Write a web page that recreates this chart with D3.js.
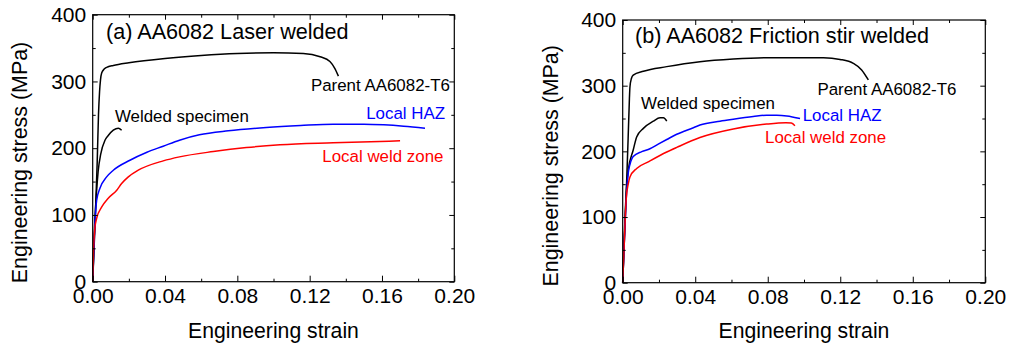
<!DOCTYPE html>
<html>
<head>
<meta charset="utf-8">
<script src="https://cdn.jsdelivr.net/npm/d3@7"></script>
<style>
  body { margin: 0; background: #fff; }
  svg { display: block; font-family: "Liberation Sans", Arial, sans-serif; }
  .tick text { font-size: 21px; fill: #000; }
</style>
</head>
<body>
<div id="chart"></div>
<script>
// Tick values shared by both panels
const strainTicks = [0, 0.04, 0.08, 0.12, 0.16, 0.20]
const strainMinor = [0.02, 0.06, 0.10, 0.14, 0.18]
const stressTicks = [0, 100, 200, 300, 400]
const stressMinor = [50, 150, 250, 350]

// (a) Laser welded  -  [strain, stress MPa]
const parentA = [[0,0],[0.0015,100],[0.0025,180],[0.0032,250],[0.0038,285],[0.0043,302],[0.005,313],[0.0065,319],[0.0085,322],[0.0114,324],[0.02,328],[0.04,334.5],[0.06,339],[0.08,342],[0.1,343],[0.1165,342],[0.1258,337],[0.1312,330],[0.1338,320],[0.1359,308]]
const weldedA = [[0,0],[0.001,80],[0.002,130],[0.003,165],[0.0045,192],[0.0068,212],[0.0086,219],[0.0114,227],[0.0142,230],[0.016,227]]
const hazA = [[0,0],[0.0008,60],[0.0013,90],[0.0022,122],[0.004,140],[0.0077,157],[0.0114,167],[0.0206,182],[0.03,194],[0.039,203],[0.048,212],[0.059,220],[0.075,226],[0.096,231],[0.115,234],[0.133,236],[0.15,236],[0.161,235],[0.172,233],[0.1838,230]]
const weldZoneA = [[0,0],[0.0005,50],[0.0012,80],[0.0022,95],[0.005,112],[0.0086,125],[0.0133,137],[0.016,147],[0.0197,157],[0.0252,167],[0.039,181],[0.048,187],[0.0667,195],[0.085,201],[0.1036,205],[0.133,208],[0.17,211]]

// (b) Friction stir welded
const parentB = [[0,0],[0.002,140],[0.003,220],[0.0037,280],[0.004,298],[0.0048,311],[0.0058,316],[0.0114,322],[0.0243,329],[0.0426,336.5],[0.061,340.5],[0.0794,342.5],[0.0978,342.6],[0.1107,342.5],[0.1199,340],[0.1272,334],[0.1318,324],[0.1355,308.7]]
const weldedB = [[0,0],[0.001,80],[0.002,140],[0.0031,172],[0.0058,202],[0.0077,222],[0.0114,235],[0.0169,246],[0.0206,251],[0.0225,251],[0.0243,246]]
const hazB = [[0,0],[0.001,70],[0.002,130],[0.0031,168],[0.004,180],[0.0058,192],[0.0105,199.5],[0.015,204],[0.0196,211],[0.0243,218],[0.0298,226],[0.039,236],[0.0426,240],[0.0537,246],[0.061,249],[0.072,253],[0.0794,255],[0.085,255],[0.0905,254],[0.0978,250]]
const weldZoneB = [[0,0],[0.001,70],[0.002,130],[0.0031,151],[0.004,161],[0.0077,174],[0.0141,184],[0.0243,199],[0.0298,206],[0.0426,221],[0.061,234],[0.0794,241.5],[0.09,243.5],[0.093,243],[0.095,239]]

// label text, anchor point in data units
const labelsA = [
  { text: "(a) AA6082 Laser welded", x: 0.0074, y: 364, cls: "title" },
  { text: "Parent AA6082-T6", x: 0.1207, y: 286, color: "#000" },
  { text: "Welded specimen", x: 0.0123, y: 238.5, color: "#000" },
  { text: "Local HAZ", x: 0.1949, y: 243.5, color: "#0000ff", anchor: "end" },
  { text: "Local weld zone", x: 0.194, y: 180, color: "#ff0000", anchor: "end" }
]
const labelsB = [
  { text: "(b) AA6082 Friction stir welded", x: 0.0068, y: 365, cls: "title" },
  { text: "Parent AA6082-T6", x: 0.1074, y: 285.8, color: "#000" },
  { text: "Welded specimen", x: 0.0101, y: 264.5, color: "#000" },
  { text: "Local HAZ", x: 0.0993, y: 246.7, color: "#0000ff" },
  { text: "Local weld zone", x: 0.0785, y: 212, color: "#ff0000" }
]

const width = 1010, height = 349
const svg = d3.select('#chart').append('svg').attr('width', width).attr('height', height)

const panels = [
  { left: 92.7, top: 14.7, w: 361.6, h: 267, curves: [[parentA, "#000"], [weldedA, "#000"], [hazA, "#0000ff"], [weldZoneA, "#ff0000"]], labels: labelsA, yTitleX: -66, yTitleY: 162.5 },
  { left: 622.7, top: 20, w: 362.6, h: 262.7, curves: [[parentB, "#000"], [weldedB, "#000"], [hazB, "#0000ff"], [weldZoneB, "#ff0000"]], labels: labelsB, yTitleX: -64.4, yTitleY: 165.8 }
]

panels.forEach(p => {
  const g = svg.append('g').attr('transform', `translate(${p.left}, ${p.top})`)
  const x = d3.scaleLinear().domain([0, 0.2]).range([0, p.w])
  const y = d3.scaleLinear().domain([0, 400]).range([p.h, 0])

  // curves first so the frame sits on top
  const line = d3.line().x(d => x(d[0])).y(d => y(d[1])).curve(d3.curveMonotoneX)
  p.curves.forEach(([data, color]) => {
    g.append('path').datum(data)
      .attr('d', line)
      .attr('fill', 'none')
      .attr('stroke', color)
      .attr('stroke-width', 1.5)
  })

  // major + minor ticks on all four sides, pointing inward
  const addAxis = (axis, transform) => {
    const a = g.append('g').attr('transform', transform).call(axis)
    a.select('.domain').remove()
    a.selectAll('.tick line').attr('stroke', '#000').attr('stroke-width', 1)
    return a
  }
  addAxis(d3.axisBottom(x).tickValues(strainTicks).tickSize(-6).tickPadding(6.5).tickFormat(d3.format('.2f')), `translate(0, ${p.h})`)
  addAxis(d3.axisBottom(x).tickValues(strainMinor).tickSize(-3).tickFormat(''), `translate(0, ${p.h})`)
  addAxis(d3.axisTop(x).tickValues(strainTicks).tickSize(-5).tickFormat(''), 'translate(0,0)')
  addAxis(d3.axisTop(x).tickValues(strainMinor).tickSize(-3).tickFormat(''), 'translate(0,0)')
  addAxis(d3.axisLeft(y).tickValues(stressTicks).tickSize(-5).tickPadding(6.5).tickFormat(d3.format('d')), 'translate(0,0)')
  addAxis(d3.axisLeft(y).tickValues(stressMinor).tickSize(-3).tickFormat(''), 'translate(0,0)')
  addAxis(d3.axisRight(y).tickValues(stressTicks).tickSize(-5).tickFormat(''), `translate(${p.w}, 0)`)
  addAxis(d3.axisRight(y).tickValues(stressMinor).tickSize(-3).tickFormat(''), `translate(${p.w}, 0)`)
  g.selectAll('.tick text').attr('font-family', null).attr('font-size', null)

  // frame
  g.append('rect').attr('width', p.w).attr('height', p.h)
    .attr('fill', 'none').attr('stroke', '#000').attr('stroke-width', 1.2)

  // annotations
  p.labels.forEach(l => {
    g.append('text')
      .attr('x', x(l.x)).attr('y', y(l.y))
      .attr('text-anchor', l.anchor || 'start')
      .attr('font-size', l.cls == 'title' ? 21.6 : 16.9)
      .attr('fill', l.color || '#000')
      .text(l.text)
  })

  // axis titles
  svg.append('text')
    .attr('x', p.left + p.w / 2).attr('y', 338.3)
    .attr('text-anchor', 'middle')
    .attr('font-size', 21.2)
    .text('Engineering strain')
  svg.append('text')
    .attr('transform', `translate(${p.left + p.yTitleX}, ${p.yTitleY}) rotate(-90)`)
    .attr('text-anchor', 'middle')
    .attr('font-size', 21.4)
    .text('Engineering stress (MPa)')
})
</script>
</body>
</html>
